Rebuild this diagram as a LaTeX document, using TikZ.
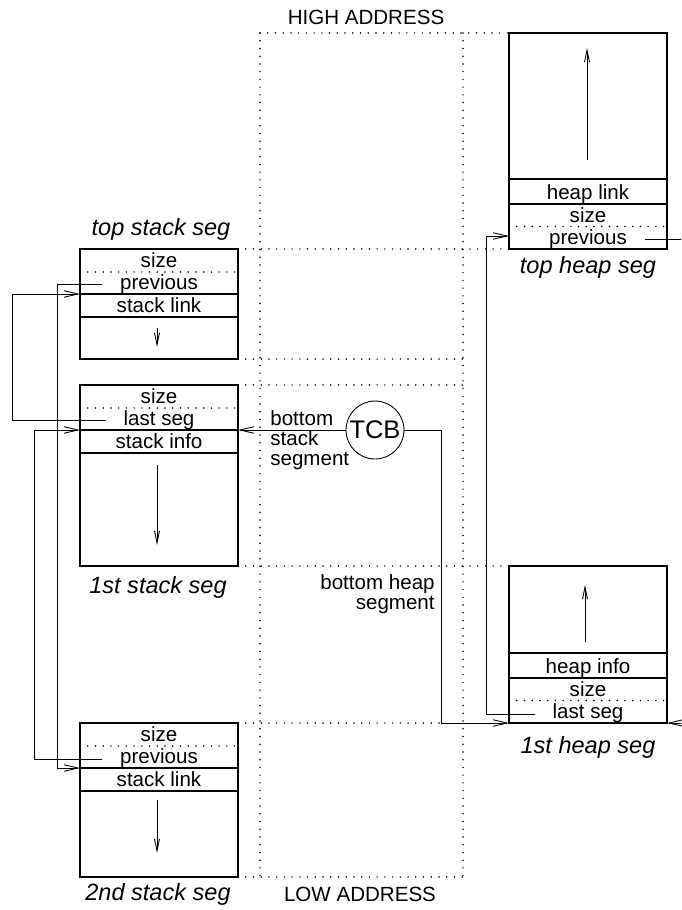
\documentclass[tikz,border=0pt]{standalone}
\usepackage{fontspec}
\setmainfont{Liberation Sans}
\usetikzlibrary{arrows.meta}

\begin{document}
\begin{tikzpicture}[x=0.02cm,y=-0.02cm,
  font=\fontsize{11.7}{11.5}\selectfont,
  segbox/.style={line width=.65pt},
  dots/.style={line width=.95pt,line cap=round,dash pattern=on 0pt off 4.4pt},
  field/.style={anchor=base,inner xsep=10pt,inner ysep=0pt,
                text height=.72em,text depth=.2em},
  segtitle/.style={font=\fontsize{13.4}{15}\selectfont\itshape},
  wire/.style={line width=.5pt},
  link/.style={wire,-{Straight Barb[length=2.8mm,width=1.3mm]}},
  growth/.style={wire,-{Straight Barb[length=2.4mm,width=1mm]}}]
  \useasboundingbox (0,0) rectangle (681,910);

  % address range between the two columns
  \draw[dots] (260,33) -- (260,877) (463,33) -- (463,877);
  \draw[dots] (260,33) -- (509,33);
  \draw[dots] (238,249) -- (509,249);
  \draw[dots] (238,359) -- (463,359) (238,385) -- (463,385);
  \draw[dots] (238,566) -- (509,566);
  \draw[dots] (238,723) -- (441,723);
  \draw[dots] (238,877) -- (463,877);
  \node (high) at (366,17) {HIGH ADDRESS};
  \node (low) at (360,894) {LOW ADDRESS};

  % stack segments: header rows under the top edge
  \foreach \s/\t/\b/\f/\g in {ts/249/359/previous/stack link,
                               fs/385/566/last seg/stack info,
                               ss/723/877/previous/stack link} {
    \draw[segbox] (80,\t) rectangle (238,\b);
    \draw[dots] (80,{\t+23}) -- (238,{\t+23});
    \draw[segbox] (80,{\t+45}) -- (238,{\t+45}) (80,{\t+68}) -- (238,{\t+68});
    \node[field] (\s-a) at (159,{\t+18.5}) {size};
    \node[field] (\s-b) at (159,{\t+40.5}) {\f};
    \node[field] (\s-c) at (159,{\t+63.5}) {\g};
    \coordinate (\s-in) at (80,{\t+45});
  }
  \draw[growth] (157,328) -- (157,347);
  \draw[growth] (157,465) -- (157,545);
  \draw[growth] (157,800) -- (157,853);
  \node[segtitle] (ts-t) at (161,229) {top stack seg};
  \node[segtitle] (fs-t) at (158,587) {1st stack seg};
  \node[segtitle] (ss-t) at (158,894) {2nd stack seg};

  % heap segments: header rows above the bottom edge
  \foreach \s/\t/\b/\f/\g in {th/33/249/heap link/previous,
                               fh/566/723/heap info/last seg} {
    \draw[segbox] (509,\t) rectangle (667,\b);
    \draw[segbox] (509,{\b-70}) -- (667,{\b-70}) (509,{\b-45}) -- (667,{\b-45});
    \draw[dots] (509,{\b-22.5}) -- (667,{\b-22.5});
    \node[field] (\s-a) at (588,{\b-49.5}) {\f};
    \node[field] (\s-b) at (588,{\b-26.5}) {size};
    \node[field] (\s-c) at (588,{\b-4.5}) {\g};
  }
  \draw[growth] (587,160) -- (587,48);
  \draw[growth] (585,642) -- (585,585);
  \node[segtitle] (th-t) at (588,267) {top heap seg};
  \node[segtitle] (fh-t) at (588,747) {1st heap seg};

  % task control block and its two pointers
  \node[circle,draw,line width=.5pt,inner sep=0pt,minimum size=1.16cm,
        font=\fontsize{14.5}{16}\selectfont] (tcb) at (375,430) {TCB};
  \node[anchor=north west,align=left,inner sep=0pt] (bss) at (270,410)
    {bottom\\stack\\segment};
  \node[anchor=north east,align=right,inner sep=0pt] (bhs) at (435,574)
    {bottom heap\\segment};

  \coordinate (fs-out) at (238,430);
  \coordinate (th-in) at (509,236);
  \coordinate (fh-in) at (509,723);
  \coordinate (fh-back) at (667,723);
  \coordinate (edge-a) at (681,236);
  \coordinate (edge-b) at (681,723);

  \draw[link] (fs-b.west) -| ([xshift=-1.36cm]ts-in) -- (ts-in);
  \draw[link] (ts-b.west) -| ([xshift=-.46cm]ss-in) -- (ss-in);
  \draw[link] (ss-b.west) -| ([xshift=-.92cm]fs-in) -- (fs-in);
  \draw[link] (tcb.west) -- (fs-out);
  \draw[link] (tcb.east) -| ([xshift=-1.36cm]fh-in) -- (fh-in);
  \draw[link] (fh-c.west) -| ([xshift=-.46cm]th-in) -- (th-in);
  \draw[wire] (th-c.east) -- (th-c.east -| edge-a);
  \draw[link] (edge-b) -- (fh-back);
\end{tikzpicture}
\end{document}
